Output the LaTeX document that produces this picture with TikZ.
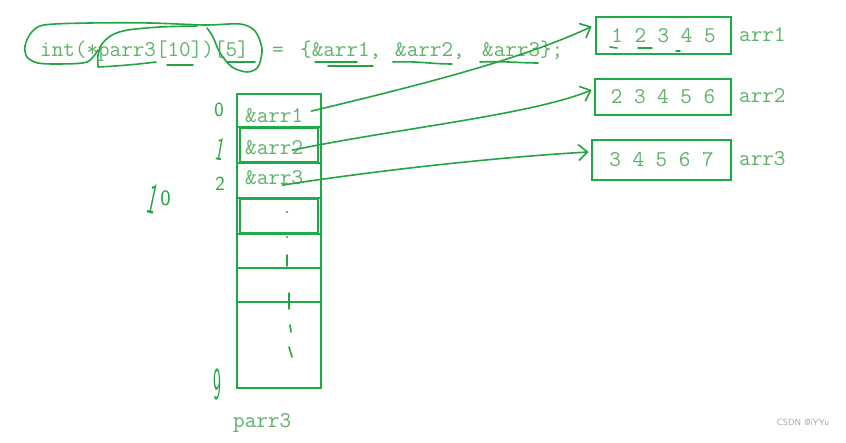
\documentclass[tikz,border=0pt]{standalone}
\usepackage{tikz}
\usetikzlibrary{positioning}
\usetikzlibrary{arrows.meta}
\definecolor{boxgreen}{RGB}{30,170,70}
\definecolor{txtgreen}{RGB}{95,178,105}
\definecolor{inkgreen}{RGB}{35,165,65}
\newcommand{\codefont}{\fontsize{22.5}{24}\selectfont\ttfamily}
\newcommand{\handfont}[1]{\fontsize{#1}{#1}\selectfont\sffamily}
\tikzset{
  cell/.style={draw=boxgreen,line width=2.6pt},
  arrbox/.style={draw=boxgreen,line width=2.6pt,inner sep=0,text=txtgreen,font=\codefont},
  code/.style={text=txtgreen,font=\codefont,inner sep=0,anchor=base west},
  ink/.style={draw=inkgreen,line width=1.6pt,line cap=round,line join=round},
  hand/.style={text=inkgreen,inner sep=0},
  ptr/.style={ink,-{Straight Barb[length=9pt,width=16pt]}}
}

\begin{document}
\begin{tikzpicture}[x=1pt,y=-1pt]
\fill[white] (0,0) rectangle (846,443);
\useasboundingbox (0,0) rectangle (846,443);

\node[code] (code1) at (40,57) {int(*parr3[10])[5]};
\node[code] (code2) at (272,57) {=};
\node[code] (code3) at (300,57) {\{\&arr1,};
\node[code] (code4) at (395,57) {\&arr2,};
\node[code] (code5) at (482,57) {\&arr3\};};

\draw[ink] plot[smooth] coordinates {(98,50) (87,62) (60,64) (38,63) (27,57) (25,46) (31,33) (44,25) (90,23) (150,23) (205,25) (240,24) (255,31) (262,49) (258,67) (247,72) (232,67) (220,53) (213,37) (207,28)};
\draw[ink] plot[smooth] coordinates {(98,66) (98,55) (102,44) (112,35) (128,30) (160,27) (197,26)};
\draw[ink] (98,67) .. controls (120,66) and (140,64) .. (156,62);
\draw[ink] (167,65) -- (193,65);
\draw[ink] (227,62) -- (255,62);
\draw[ink] (315,62) -- (357,62);
\draw[ink] (328,66) -- (373,66);
\draw[ink] (393,62) .. controls (420,61) and (430,64) .. (452,64);
\draw[ink] (480,62) .. controls (505,61) and (520,63) .. (538,63);

\draw[cell] (237,94) rectangle (321,388);
\foreach \y in {127,163,198,234,268,302}
  \draw[cell] (237,\y) -- (321,\y);
\draw[cell] (240,128) rectangle (318,162);
\draw[cell] (240,199) rectangle (318,233);

\node[code] (c1) at (245,123) {\&arr1};
\node[code] (c2) at (245,155) {\&arr2};
\node[code] (c3) at (245,185) {\&arr3};
\node[code] (name) at (233,428) {parr3};

\fill[inkgreen] (287,212) circle (1.1pt);
\fill[inkgreen] (287,237) circle (1.1pt);
\draw[ink] (287,255) -- (287,266);
\draw[ink] (289,293) -- (289,309);
\draw[ink] (290,325) -- (291,332);
\draw[ink] (289,347) -- (292,357);

\node[hand,font=\handfont{20}] (i0) at (219,110) {0};
\node[hand,font=\handfont{22},rotate=-10] (i1) at (220,149) {\scalebox{0.8}[1.5]{1}};
\node[hand,font=\handfont{20}] (i2) at (220,184) {2};
\node[hand,font=\handfont{22}] (i10) at (158,199) {\raisebox{-7pt}{\rotatebox{-12}{\scalebox{0.9}[2]{1}}}0};
\node[hand,font=\handfont{24}] (i9) at (217,385) {\scalebox{0.7}[1.9]{9}};

\node[arrbox,minimum width=135pt,minimum height=37pt] (a1) at (663.5,35.5) {1 2 3 4 5};
\node[arrbox,minimum width=136pt,minimum height=36pt] (a2) at (663,97) {2 3 4 5 6};
\node[arrbox,minimum width=139pt,minimum height=40pt] (a3) at (661.5,160) {3 4 5 6 7};
\node[code] (l1) at (739,42) {arr1};
\node[code] (l2) at (739,103) {arr2};
\node[code] (l3) at (739,166) {arr3};

\draw[ink] (610,47) -- (617,48);
\draw[ink] (638,48) -- (652,48);
\draw[ink] (676,51) -- (680,51);

\draw[ptr] ([shift={(8,-5)}]c1.east) .. controls (420,85) and (520,60) .. ([shift={(-3,-9)}]a1.west);
\draw[ptr] ([shift={(-11,2)}]c2.east) .. controls (400,128) and (530,115) .. ([shift={(-2,-7)}]a2.west);
\draw[ptr] ([shift={(-21,7)}]c3.east) .. controls (380,170) and (500,157) .. ([shift={(-2,-8)}]a3.west);

\node[text=gray!70,font=\handfont{9}] (mark) at (803,422) {CSDN @iYYu};
\end{tikzpicture}
\end{document}
